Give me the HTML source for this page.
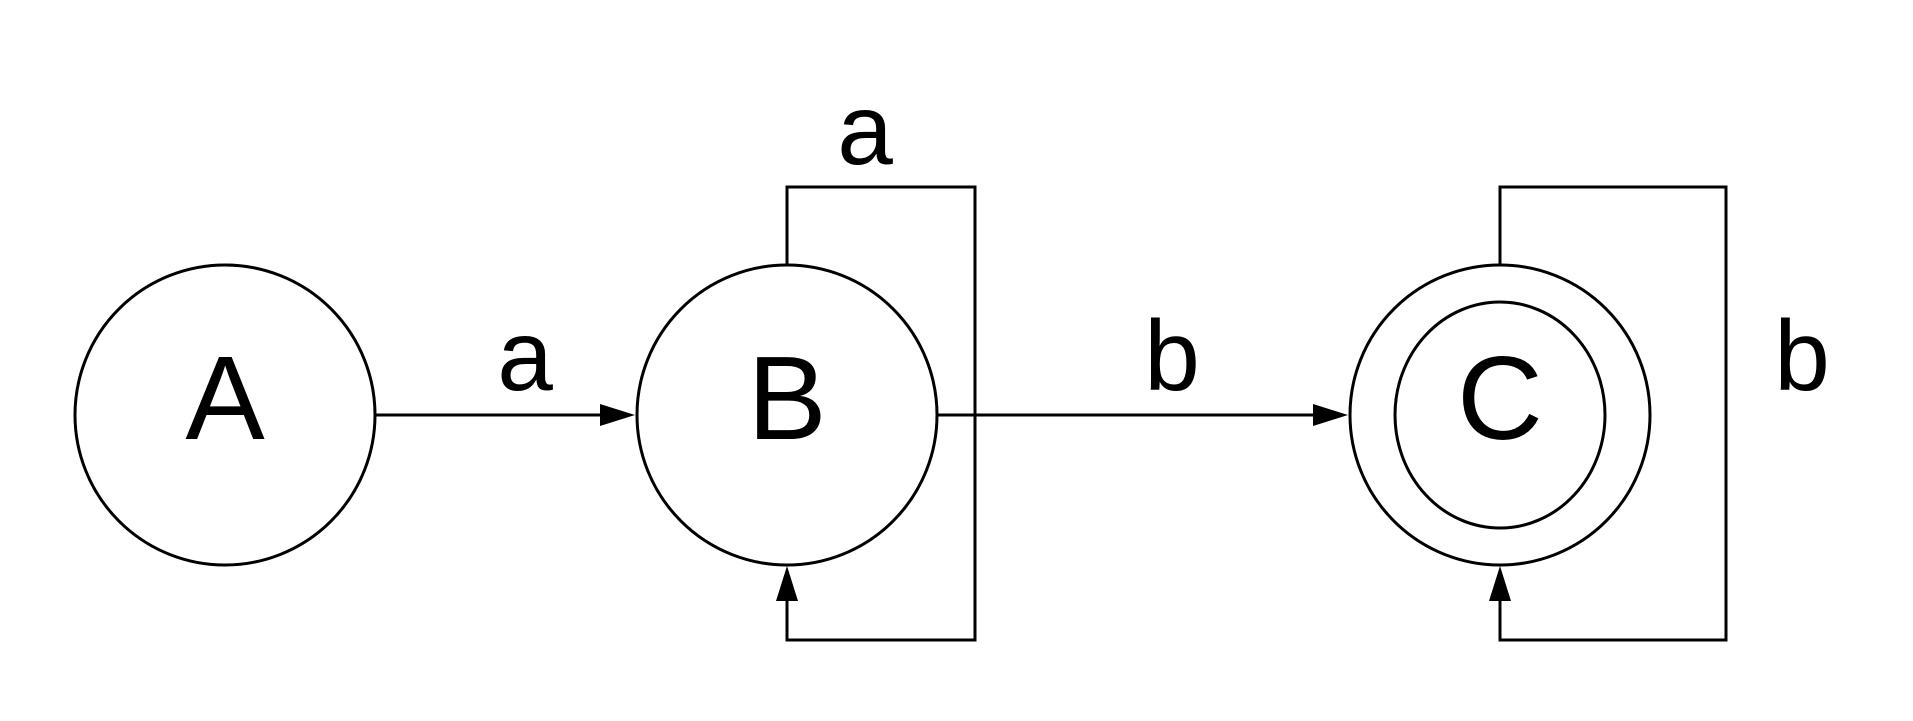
<!DOCTYPE html>
<html><head><style>html,body{margin:0;padding:0;background:#fff}</style></head>
<body>
<svg width="1913" height="716" viewBox="0 0 1913 716" xmlns="http://www.w3.org/2000/svg" font-family="Liberation Sans, sans-serif">
<g fill="none" stroke="#000" stroke-width="3">
<circle cx="225" cy="415" r="150"/>
<circle cx="787" cy="415" r="150"/>
<circle cx="1500" cy="415" r="150"/>
<ellipse cx="1500" cy="415" rx="105" ry="113"/>
<line x1="376" y1="415" x2="607" y2="415"/>
<line x1="937" y1="415" x2="1320" y2="415"/>
<polyline points="787,265 787,187 975,187 975,640 787,640 787,598"/>
<polyline points="1500,265 1500,187 1726,187 1726,640 1500,640 1500,598"/>
</g>
<g fill="#000">
<polygon points="635,415 600,404 600,426"/>
<polygon points="1348,415 1313,404 1313,426"/>
<polygon points="787,566 776,601 798,601"/>
<polygon points="1500,566 1489,601 1511,601"/>
</g>
<g font-size="119" text-anchor="middle">
<text x="225" y="439">A</text>
<text x="787" y="439">B</text>
<text x="1500" y="439">C</text>
</g>
<g font-size="100" text-anchor="middle">
<text x="525" y="390">a</text>
<text x="865" y="164">a</text>
<text x="1172" y="390">b</text>
<text x="1802" y="390">b</text>
</g>
</svg>
</body></html>
